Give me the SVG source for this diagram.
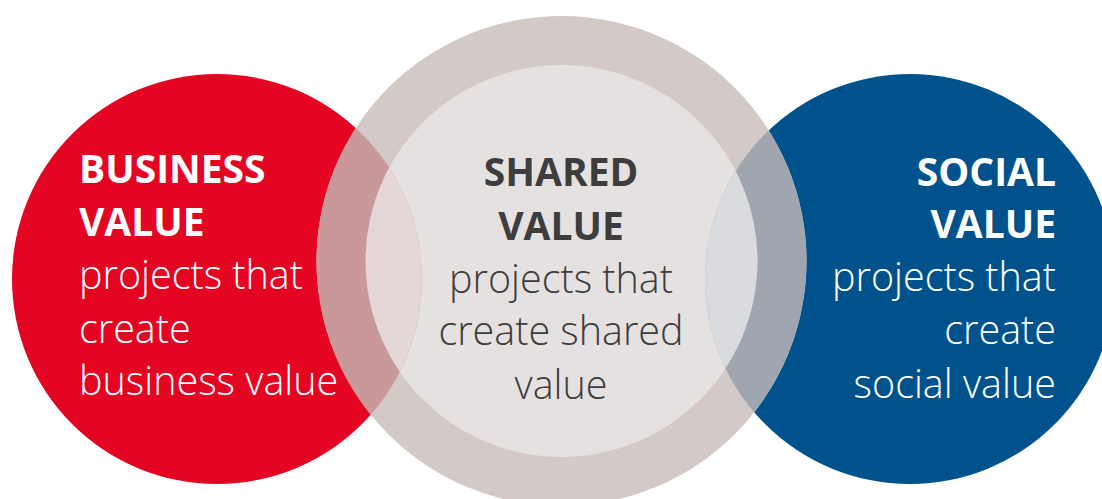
<svg xmlns="http://www.w3.org/2000/svg" width="1102" height="499" viewBox="0 0 1102 499">
<style>
.t{font-family:"Open Sans","Liberation Sans",sans-serif;font-size:39.5px;}
.b{font-weight:700;font-size:39px;}
.r{font-weight:300;}
.w{fill:#FFFFFF;}
.d{fill:#3D3D3D;}
</style>
<defs>
<clipPath id="cRed"><circle cx="217" cy="279" r="205"/></clipPath>
<clipPath id="cBlue"><circle cx="910" cy="279" r="205"/></clipPath>
</defs>
<rect width="1102" height="499" fill="#FFFFFF"/>
<g id="business">
<circle cx="217" cy="279" r="205" fill="#E30521"/>
</g>
<g id="social">
<circle cx="910" cy="279" r="205" fill="#00528C"/>
</g>
<g id="shared">
<circle cx="561.5" cy="261" r="245" fill="#D3C9C7"/>
<circle cx="561.5" cy="261" r="196" fill="#E5E1E1"/>
<g clip-path="url(#cRed)">
<circle cx="561.5" cy="261" r="245" fill="#C9989A"/>
<circle cx="561.5" cy="261" r="196" fill="#E4D7D8"/>
</g>
<g clip-path="url(#cBlue)">
<circle cx="561.5" cy="261" r="245" fill="#A0A6B0"/>
<circle cx="561.5" cy="261" r="196" fill="#DADBDE"/>
</g>
</g>
<g id="business-text" class="t w">
<text x="79" y="183" class="b">BUSINESS</text>
<text x="79" y="236" class="b">VALUE</text>
<text x="79" y="289" class="r">projects that</text>
<text x="79" y="343" class="r">create</text>
<text x="79" y="395" class="r">business value</text>
</g>
<g id="shared-text" class="t d" text-anchor="middle">
<text x="561" y="186" class="b">SHARED</text>
<text x="561" y="240" class="b">VALUE</text>
<text x="561" y="293" class="r">projects that</text>
<text x="561" y="345" class="r">create shared</text>
<text x="561" y="399" class="r">value</text>
</g>
<g id="social-text" class="t w" text-anchor="end">
<text x="1056" y="186" class="b">SOCIAL</text>
<text x="1056" y="238" class="b">VALUE</text>
<text x="1056" y="291" class="r">projects that</text>
<text x="1056" y="344" class="r">create</text>
<text x="1056" y="398" class="r">social value</text>
</g>
<g id="connectors"/>
</svg>
